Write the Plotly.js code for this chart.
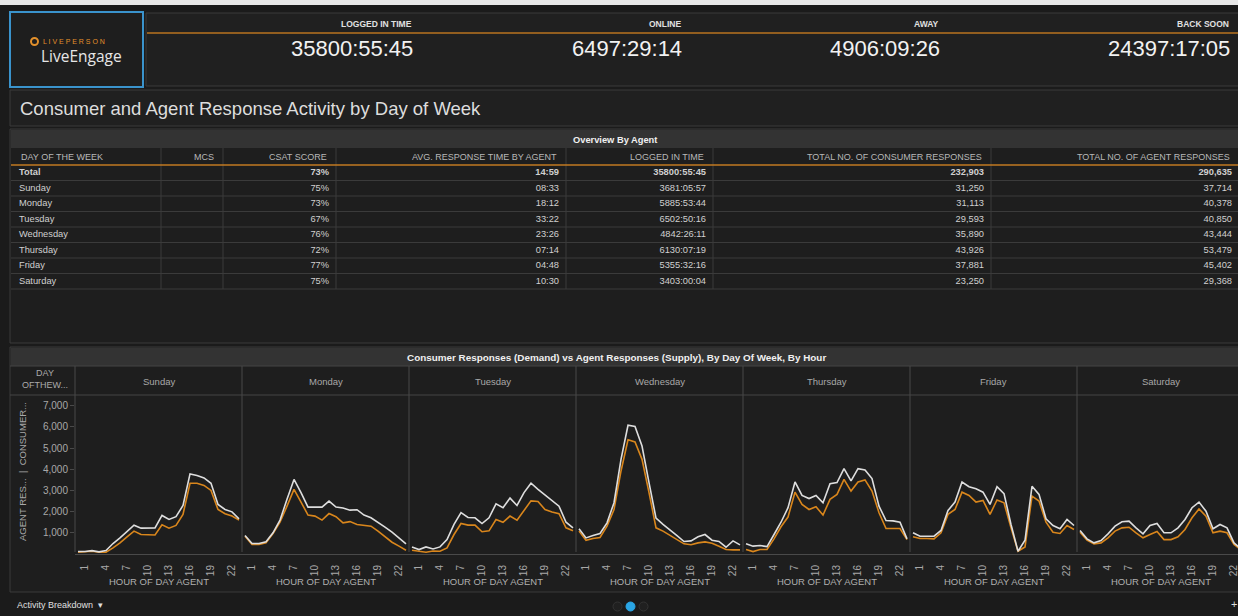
<!DOCTYPE html>
<html><head><meta charset="utf-8">
<script src="https://cdn.plot.ly/plotly-3.0.1.min.js"></script>
<style>html,body{margin:0;padding:0;background:#1b1b1b;overflow:hidden}#chart{width:1238px;height:616px}</style>
</head><body><div id="chart"></div>
<script>
// ---------- DATA ----------
const kpiLabels = ['LOGGED IN TIME', 'ONLINE', 'AWAY', 'BACK SOON'];
const kpiValues = ['35800:55:45', '6497:29:14', '4906:09:26', '24397:17:05'];

const tableHeaders = ['DAY OF THE WEEK', 'MCS', 'CSAT SCORE', 'AVG. RESPONSE TIME BY AGENT', 'LOGGED IN TIME', 'TOTAL NO. OF CONSUMER RESPONSES', 'TOTAL NO. OF AGENT RESPONSES'];
const tableDays = ['Total', 'Sunday', 'Monday', 'Tuesday', 'Wednesday', 'Thursday', 'Friday', 'Saturday'];
const mcs = ['', '', '', '', '', '', '', ''];
const csatScore = [73, 75, 73, 67, 76, 72, 77, 75];
const avgResponseTime = ['14:59', '08:33', '18:12', '33:22', '23:26', '07:14', '04:48', '10:30'];
const loggedInTime = ['35800:55:45', '3681:05:57', '5885:53:44', '6502:50:16', '4842:26:11', '6130:07:19', '5355:32:16', '3403:00:04'];
const consumerResponses = [232903, 31250, 31113, 29593, 35890, 43926, 37881, 23250];
const agentResponses = [290635, 37714, 40378, 40850, 43444, 53479, 45402, 29368];

const days = ['Sunday', 'Monday', 'Tuesday', 'Wednesday', 'Thursday', 'Friday', 'Saturday'];
const hours = [0, 1, 2, 3, 4, 5, 6, 7, 8, 9, 10, 11, 12, 13, 14, 15, 16, 17, 18, 19, 20, 21, 22, 23];
const hourTicks = [1, 4, 7, 10, 13, 16, 19, 22];
const yTicks = [1000, 2000, 3000, 4000, 5000, 6000, 7000];

const sundayAgent    = [115,115,160,100,160,495,760,1080,1360,1220,1220,1235,1820,1630,1760,2290,3780,3710,3590,3340,2340,2100,1990,1660];
const sundayConsumer = [85,90,130,85,85,290,525,810,1080,920,900,900,1380,1220,1350,1870,3340,3340,3240,3000,2100,1900,1790,1600];
const mondayAgent    = [870,495,495,575,1000,1600,2580,3520,2900,2215,2215,2215,2500,2215,2170,2070,2090,1840,1710,1500,1265,1030,760,480];
const mondayConsumer = [840,450,450,525,970,1500,2260,3050,2450,1840,1790,1600,1910,1760,1470,1530,1395,1350,1315,1080,795,555,370,180];
const tuesdayAgent    = [335,210,335,240,335,685,1395,1950,1725,1710,1440,1710,2370,2185,2640,2290,2900,3340,3050,2780,2530,2260,1500,1235];
const tuesdayConsumer = [180,115,85,145,130,290,920,1440,1365,1365,1050,1095,1630,1500,1790,1600,2070,2510,2480,2100,1980,1900,1235,1095];
const wednesdayAgent    = [1190,760,870,970,1470,2420,4470,6080,6020,5100,3370,1695,1395,1110,870,590,620,810,920,650,590,320,620,430];
const wednesdayConsumer = [1080,650,730,780,1315,2100,3920,5390,5290,4470,2900,1235,1080,870,680,480,435,525,570,510,370,210,195,195];
const thursdayAgent    = [480,370,400,350,920,1500,2185,3400,2765,2620,2765,2420,3320,3370,4030,3450,4030,3970,3560,2260,1580,1565,1500,715];
const thursdayConsumer = [210,115,210,210,715,1285,1745,2920,2340,2100,2230,1840,2580,2815,3520,2970,3400,3500,2970,1950,1205,1205,1205,680];
const fridayAgent    = [1000,840,840,840,1110,2055,2450,3400,3180,3080,2920,2340,3180,2850,1395,130,650,3200,2815,1660,1345,1190,1630,1345];
const fridayConsumer = [810,730,730,715,1000,1870,2100,2920,2765,2450,2530,1870,2550,2420,1235,130,335,2735,2500,1500,1030,970,1345,1160];
const saturdayAgent    = [1110,715,525,635,950,1315,1520,1550,1235,950,1345,1440,1000,1000,1235,1630,2185,2450,2020,1190,1395,1235,525,250];
const saturdayConsumer = [1030,650,480,525,765,1080,1235,1265,1000,765,920,1060,680,680,810,1160,1710,2130,1790,1000,1080,1000,450,200];

const agentSeries = [sundayAgent, mondayAgent, tuesdayAgent, wednesdayAgent, thursdayAgent, fridayAgent, saturdayAgent];
const consumerSeries = [sundayConsumer, mondayConsumer, tuesdayConsumer, wednesdayConsumer, thursdayConsumer, fridayConsumer, saturdayConsumer];

// ---------- LAYOUT HELPERS ----------
const W = 1238, H = 616;
const X = p => p / W, Y = p => 1 - p / H;
const FONT = 'Liberation Sans, Arial, Helvetica, sans-serif';
const ORANGE = '#d9861c', WHITE = '#dedede';
const PANEL = '#202020', BORDER = '#3a3a3a', BAND = '#333333', GRIDC = '#3b3b3b';

const shapes = [];
function rect(x0, y0, x1, y1, fill, line, lw, layer) {
  shapes.push({type: 'rect', xref: 'paper', yref: 'paper', x0: X(x0), x1: X(x1), y0: Y(y1), y1: Y(y0),
    fillcolor: fill || 'rgba(0,0,0,0)', line: {color: line || 'rgba(0,0,0,0)', width: lw || 0}, layer: layer || 'below'});
}
function hline(x0, x1, y, color, lw, layer) {
  shapes.push({type: 'line', xref: 'paper', yref: 'paper', x0: X(x0), x1: X(x1), y0: Y(y), y1: Y(y), line: {color, width: lw}, layer: layer || 'above'});
}
function vline(x, y0, y1, color, lw, layer) {
  shapes.push({type: 'line', xref: 'paper', yref: 'paper', x0: X(x), x1: X(x), y0: Y(y0), y1: Y(y1), line: {color, width: lw}, layer: layer || 'above'});
}
const annotations = [];
function text(t, x, y, size, color, opts) {
  annotations.push(Object.assign({text: t, x: X(x), y: Y(y), xref: 'paper', yref: 'paper', showarrow: false,
    xanchor: 'center', yanchor: 'middle', font: {family: FONT, size, color}}, opts || {}));
}

// ---------- BACKGROUND PANELS ----------
rect(0, 0, W, 5, '#e8e8e8');
rect(0, 5, W, H, '#1b1b1b');
// logo box
rect(10, 12, 143, 87, '#1e1e1e', '#3a93cc', 2);
shapes.push({type: 'circle', xref: 'paper', yref: 'paper', x0: X(31), x1: X(38), y0: Y(45), y1: Y(38), line: {color: '#e3902b', width: 2}, layer: 'above'});
text('L I V E P E R S O N', 41, 41.5, 7, '#e3902b', {xanchor: 'left'});
text('LiveEngage', 39, 55.5, 16, '#e6e6e6', {xanchor: 'left', font: {family: 'Open Sans, ' + FONT, size: 15.5, color: '#e6e6e6'}});
// KPI panel
rect(146, 13, W + 2, 86, PANEL, BORDER, 1);
hline(147, W, 33, '#b8731f', 1.5);
const kpiRight = [414, 683, 941, 1231];
kpiLabels.forEach((l, i) => {
  text('<b>' + l + '</b>', kpiRight[i], 24, 8.5, '#e0e0e0', {xanchor: 'right'});
  text(kpiValues[i], kpiRight[i] + 1, 48, 22, '#f2f2f2', {xanchor: 'right'});
});
// Title band
rect(10, 90, W + 2, 126, PANEL, BORDER, 1);
text('Consumer and Agent Response Activity by Day of Week', 18, 108, 18.5, '#dddddd', {xanchor: 'left'});
// Table panel
rect(10, 129, W + 2, 343, '#1e1e1e', BORDER, 1);
rect(11, 130, W, 148, BAND);
text('<b>Overview By Agent</b>', 615, 139.5, 9.3, '#f0f0f0');
// Chart panel
rect(10, 347, W + 2, 592, '#1e1e1e', BORDER, 1);
rect(11, 348, W, 366, BAND);
text('<b>Consumer Responses (Demand) vs Agent Responses (Supply), By Day Of Week, By Hour</b>', 616, 357, 9.9, '#f0f0f0');
hline(10, W, 366, '#444', 1);
hline(10, W, 395, '#444', 1);
const panelEdges = [75, 242, 409, 576, 743, 910, 1077, 1244];
for (let i = 0; i < 7; i++) vline(panelEdges[i], 366, 552, '#484848', 1);
text('DAY<br>OFTHEW...', 45, 379, 9, '#aaaaaa', {align: 'center'});
days.forEach((d, i) => {
  const c = (panelEdges[i] + panelEdges[i + 1]) / 2;
  text(d, c, 381, 9.5, '#a8a8a8');
  text('HOUR OF DAY AGENT', c, 581, 9.5, '#b0b0b0');
});
text('AGENT RES...  |  CONSUMER...', 22, 472, 9.5, '#a8a8a8', {textangle: -90});
// Bottom bar
text('Activity Breakdown  \u25BE', 15, 605, 9, '#e0e0e0', {xanchor: 'left'});
text('+', 1234, 604, 11, '#dddddd');
[[613, '#202020', '#333'], [626, '#2aa6e6', '#2aa6e6'], [639, '#202020', '#333']].forEach(([x, f, l]) => {
  shapes.push({type: 'circle', xref: 'paper', yref: 'paper', x0: X(x), x1: X(x + 9), y0: Y(611), y1: Y(602), fillcolor: f, line: {color: l, width: 1}, layer: 'above'});
});

// ---------- TABLE (text traces on a hidden category axis) ----------
const colWidths = [150, 62, 113, 230, 147, 278, 248];
const tableLeft = 11, rowTop = 165, rowH = 15.5, headerTop = 148;
const rowBottom = rowTop + rowH * tableDays.length;
const colRight = [];
colWidths.reduce((acc, w) => { colRight.push(acc + w); return acc + w; }, 0);
colRight.slice(0, -1).forEach(r => vline(tableLeft + r, headerTop, rowBottom, GRIDC, 1));
tableDays.forEach((_, k) => hline(tableLeft, W, rowTop + rowH * (k + 1), GRIDC, 1));
hline(tableLeft, W, rowTop, '#c27a22', 1.3);
tableHeaders.forEach((h, c) => {
  if (c === 0) text(h, tableLeft + 8, 157, 9, '#b8b8b8', {xanchor: 'left'});
  else text(h, tableLeft + colRight[c] - 7, 157, 9, '#b8b8b8', {xanchor: 'right'});
});
const boldFirst = (arr, fmt) => arr.map((v, i) => i === 0 ? '<b>' + fmt(v) + '</b>' : fmt(v));
const ident = v => v;
const columns = [
  boldFirst(tableDays, ident),
  mcs,
  boldFirst(csatScore, v => v + '%'),
  boldFirst(avgResponseTime, ident),
  boldFirst(loggedInTime, ident),
  boldFirst(consumerResponses, v => v.toLocaleString('en-US')),
  boldFirst(agentResponses, v => v.toLocaleString('en-US'))
];
const traces = [];
columns.forEach((col, c) => {
  const xPos = c === 0 ? 8 : colRight[c] - 7;
  traces.push({
    type: 'scatter', mode: 'text', xaxis: 'x8', yaxis: 'y8',
    x: tableDays.map(() => xPos), y: tableDays, text: col,
    textposition: c === 0 ? 'middle right' : 'middle left',
    textfont: {family: FONT, size: 9.3, color: '#d0d0d0'}, cliponaxis: false
  });
});

// ---------- LINE CHARTS ----------
const pxPerHour = 7.0;
const layout = {
  width: W, height: H,
  margin: {l: 0, r: 0, t: 0, b: 0},
  paper_bgcolor: '#1b1b1b', plot_bgcolor: 'rgba(0,0,0,0)',
  showlegend: false, hovermode: false,
  font: {family: FONT, color: '#aaa'},
  shapes, annotations,
  xaxis8: {domain: [X(tableLeft), 1], range: [0, W - tableLeft], anchor: 'y8', visible: false, fixedrange: true},
  yaxis8: {domain: [Y(rowBottom), Y(rowTop)], type: 'category', categoryarray: tableDays, categoryorder: 'array',
    range: [tableDays.length - 0.5, -0.5], anchor: 'x8', visible: false, fixedrange: true},
  yaxis: {
    domain: [Y(554), Y(396)], range: [0, 7460], anchor: 'x',
    tickvals: yTicks, tickformat: ',', ticks: 'outside', ticklen: 4, tickcolor: '#4a4a4a',
    tickfont: {family: FONT, size: 10, color: '#a8a8a8'},
    showgrid: false, zeroline: false, showline: false, fixedrange: true
  }
};
days.forEach((d, i) => {
  const suf = i === 0 ? '' : String(i + 1);
  const left = panelEdges[i], right = Math.min(panelEdges[i + 1], W);
  const r0 = -0.43;
  layout['xaxis' + suf] = {
    domain: [X(left), X(right)],
    range: [r0, r0 + (right - left) / pxPerHour],
    anchor: 'y',
    tickvals: hourTicks, tickangle: -90, ticks: '', ticklabelstandoff: 6, ticklabeloverflow: 'allow',
    tickfont: {family: FONT, size: 10, color: '#a8a8a8'},
    showline: true, linecolor: '#4a4a4a', linewidth: 1,
    showgrid: false, zeroline: false, fixedrange: true
  };
  traces.push({type: 'scatter', mode: 'lines', x: hours, y: consumerSeries[i], xaxis: 'x' + suf, yaxis: 'y',
    line: {color: ORANGE, width: 1.6}, name: d + ' consumer'});
  traces.push({type: 'scatter', mode: 'lines', x: hours, y: agentSeries[i], xaxis: 'x' + suf, yaxis: 'y',
    line: {color: WHITE, width: 1.6}, name: d + ' agent'});
});

Plotly.newPlot('chart', traces, layout, {displayModeBar: false, staticPlot: true});
</script>
</body></html>
